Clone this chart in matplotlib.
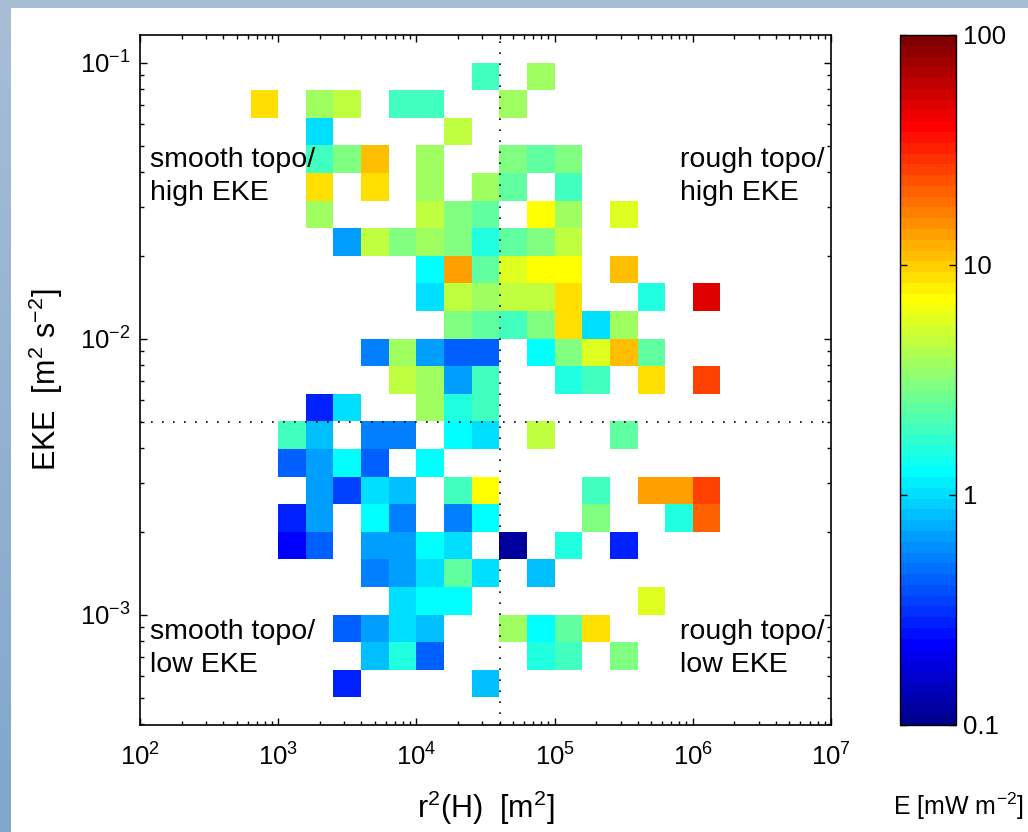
import numpy as np
import matplotlib
matplotlib.use("Agg")
import matplotlib.pyplot as plt
from matplotlib.colors import ListedColormap, LogNorm
from matplotlib.patches import Rectangle
from matplotlib.ticker import NullFormatter

plt.rcParams["font.family"] = ["Liberation Sans", "DejaVu Sans"]
plt.rcParams["mathtext.fontset"] = "custom"
plt.rcParams["mathtext.rm"] = "Liberation Sans"
plt.rcParams["mathtext.it"] = "Liberation Sans:italic"
plt.rcParams["mathtext.bf"] = "Liberation Sans:bold"

# bins: lower edges in log10, 0.2 decade in r^2(H), 0.1 decade in EKE
eke_rows = [-1.1, -1.2, -1.3, -1.4, -1.5, -1.6, -1.7, -1.8, -1.9, -2.0, -2.1, -2.2,
            -2.3, -2.4, -2.5, -2.6, -2.7, -2.8, -2.9, -3.0, -3.1, -3.2, -3.3]

r2h_cols = [
    [4.4, 4.8],
    [2.8, 3.2, 3.4, 3.8, 4.0, 4.6],
    [3.2, 4.2],
    [3.2, 3.4, 3.6, 4.0, 4.6, 4.8, 5.0],
    [3.2, 3.6, 4.0, 4.4, 4.6, 5.0],
    [3.2, 4.0, 4.2, 4.4, 4.8, 5.0, 5.4],
    [3.4, 3.6, 3.8, 4.0, 4.2, 4.4, 4.6, 4.8, 5.0],
    [4.0, 4.2, 4.4, 4.6, 4.8, 5.0, 5.4],
    [4.0, 4.2, 4.4, 4.6, 4.8, 5.0, 5.6, 6.0],
    [4.2, 4.4, 4.6, 4.8, 5.0, 5.2, 5.4],
    [3.6, 3.8, 4.0, 4.2, 4.4, 4.8, 5.0, 5.2, 5.4, 5.6],
    [3.8, 4.0, 4.2, 4.4, 5.0, 5.2, 5.6, 6.0],
    [3.2, 3.4, 4.0, 4.2, 4.4],
    [3.0, 3.2, 3.6, 3.8, 4.2, 4.4, 4.8, 5.4],
    [3.0, 3.2, 3.4, 3.6, 4.0],
    [3.2, 3.4, 3.6, 3.8, 4.2, 4.4, 5.2, 5.6, 5.8, 6.0],
    [3.0, 3.2, 3.6, 3.8, 4.2, 4.4, 5.2, 5.8, 6.0],
    [3.0, 3.2, 3.6, 3.8, 4.0, 4.2, 4.6, 5.0, 5.4],
    [3.6, 3.8, 4.0, 4.2, 4.4, 4.8],
    [3.8, 4.0, 4.2, 5.6],
    [3.4, 3.6, 3.8, 4.0, 4.6, 4.8, 5.0, 5.2],
    [3.6, 3.8, 4.0, 4.8, 5.0, 5.4],
    [3.4, 4.4],
]

# E [mW m^-2] in each bin, same layout as r2h_cols
E_cells = [
    [1.9, 3.7],
    [8.8, 3.7, 4.6, 1.9, 1.9, 3.7],
    [1.0, 4.6],
    [1.9, 3.0, 11, 3.7, 3.0, 2.4, 3.0],
    [8.8, 8.8, 3.7, 3.7, 2.4, 1.9],
    [3.7, 4.6, 3.0, 2.4, 7.1, 3.7, 5.7],
    [0.66, 4.6, 3.0, 3.7, 3.0, 1.6, 2.4, 3.0, 4.6],
    [1.3, 14, 2.4, 5.7, 7.1, 7.1, 11],
    [1.0, 4.6, 3.7, 4.6, 4.6, 8.8, 1.6, 50],
    [3.0, 2.4, 1.9, 3.0, 8.8, 1.0, 3.7],
    [0.53, 3.7, 0.66, 0.43, 0.43, 1.3, 3.0, 5.7, 11, 2.4],
    [4.6, 3.7, 0.66, 1.9, 1.6, 1.9, 8.8, 26],
    [0.28, 1.0, 3.7, 1.6, 1.9],
    [1.9, 0.82, 0.53, 0.53, 1.3, 1.0, 4.6, 2.4],
    [0.43, 0.66, 1.3, 0.43, 1.3],
    [0.66, 0.35, 1.0, 0.82, 1.9, 7.1, 1.9, 14, 14, 26],
    [0.28, 0.66, 1.3, 0.53, 0.53, 1.3, 3.0, 1.6, 21],
    [0.22, 0.43, 0.66, 0.66, 1.3, 1.0, 0.12, 1.6, 0.28],
    [0.53, 0.66, 1.0, 2.4, 1.0, 0.82],
    [1.0, 1.3, 1.3, 5.7],
    [0.43, 0.66, 1.0, 0.82, 3.7, 1.3, 2.4, 8.8],
    [0.82, 1.6, 0.43, 1.6, 1.9, 3.0],
    [0.28, 0.82],
]

r2h_split = 4e4
eke_split = 5e-3


def matlab_jet(n=64):
    i = np.arange(1, n + 1)
    r = np.clip(np.minimum(i - 24, 72 - i) / 16, 0, 1)
    g = np.clip(np.minimum(i - 8, 56 - i) / 16, 0, 1)
    b = np.clip(np.minimum(i + 8, 40 - i) / 16, 0, 1)
    return ListedColormap(np.column_stack([r, g, b]))


x_edges = 10 ** np.round(np.arange(2.0, 7.01, 0.2), 1)
y_edges = 10 ** np.round(np.arange(-3.4, -0.89, 0.1), 1)
Z = np.full((len(y_edges) - 1, len(x_edges) - 1), np.nan)
for ey, xs, es in zip(eke_rows, r2h_cols, E_cells):
    iy = int(round((ey + 3.4) / 0.1))
    for ex, e in zip(xs, es):
        ix = int(round((ex - 2.0) / 0.2))
        Z[iy, ix] = e

W, H = 1028, 832
fig = plt.figure(figsize=(W / 100, H / 100), dpi=100)

# slide background: light blue, a little darker towards the bottom
top_c = np.array([167, 190, 214]) / 255
bot_c = np.array([128, 166, 204]) / 255
t = np.linspace(0, 1, H)[:, None, None]
bg = (1 - t) * top_c + t * bot_c
fig.figimage(np.repeat(bg, W, axis=1), xo=0, yo=0, origin="upper", zorder=-10)
fig.patches.append(Rectangle((11 / W, 0), 1, 1 - 8 / H, transform=fig.transFigure,
                             facecolor="white", edgecolor="none", zorder=-5))

ax = fig.add_axes([140 / W, 1 - 725 / H, 691 / W, 690 / H])
mesh = ax.pcolormesh(x_edges, y_edges, np.ma.masked_invalid(Z), cmap=matlab_jet(),
                     norm=LogNorm(0.1, 100), shading="flat")
ax.set_xscale("log")
ax.set_yscale("log")
ax.set_xlim(1e2, 1e7)
ax.set_ylim(10 ** -3.4, 10 ** -0.9)
ax.axvline(r2h_split, color="k", lw=1.2, ls=(0, (1, 5.6)))
ax.axhline(eke_split, color="k", lw=1.2, ls=(0, (1, 5.6)))

ax.xaxis.set_minor_formatter(NullFormatter())
ax.yaxis.set_minor_formatter(NullFormatter())
ax.tick_params(which="both", direction="in", top=True, right=True, width=1)
ax.tick_params(which="major", length=5, labelsize=18.5)
ax.tick_params(axis="x", which="major", pad=13)
ax.tick_params(axis="y", which="major", pad=7)
ax.tick_params(which="minor", length=3)
for s in ax.spines.values():
    s.set_linewidth(1.2)

ax.set_xlabel(r"r$^2$(H)  [m$^2$]", fontsize=22)
ax.xaxis.set_label_coords(0.5, -0.093)
ax.set_ylabel(r"EKE  [m$^2$ s$^{-2}$]", fontsize=22)
ax.yaxis.set_label_coords(-0.108, 0.5)

quad = dict(transform=ax.transAxes, fontsize=20.5, va="top", linespacing=1.34)
ax.text(0.0145, 0.838, "smooth topo/\nhigh EKE", **quad)
ax.text(0.7815, 0.838, "rough topo/\nhigh EKE", **quad)
ax.text(0.0145, 0.153, "smooth topo/\nlow EKE", **quad)
ax.text(0.7815, 0.153, "rough topo/\nlow EKE", **quad)

cax = fig.add_axes([900 / W, 1 - 725 / H, 56 / W, 690 / H])
cb = fig.colorbar(mesh, cax=cax)
cb.set_ticks([0.1, 1, 10, 100])
cb.set_ticklabels(["0.1", "1", "10", "100"])
cb.minorticks_off()
cb.outline.set_linewidth(1)
cax.tick_params(direction="in", left=True, right=True, length=5, width=1,
                labelsize=18.5, pad=5)
fig.text(958 / W, 1 - 806 / H, r"E [mW m$^{-2}$]", ha="center", va="center", fontsize=18)

fig.savefig("out.png", dpi=100)
